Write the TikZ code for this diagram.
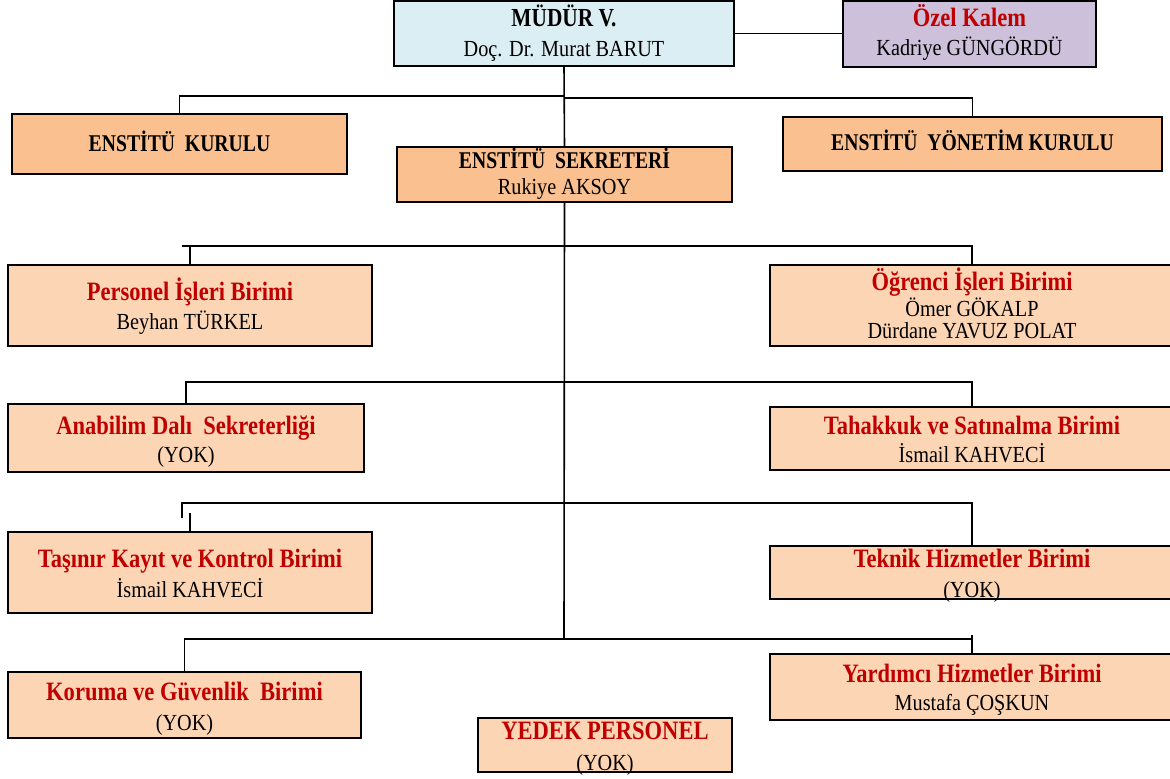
\documentclass[tikz,border=0pt]{standalone}
\usepackage{fontspec}
\setmainfont{Liberation Serif}[FakeStretch=0.88]
\newfontfamily\kirmizifont{Liberation Serif}[FakeStretch=0.85]
\newfontfamily\siyahfont{Liberation Serif}[FakeStretch=0.82]
\usetikzlibrary{calc}
\definecolor{mavi}{HTML}{DAEEF3}
\definecolor{lila}{HTML}{CCC0DA}
\definecolor{turuncu}{HTML}{FAC090}
\definecolor{acik}{HTML}{FCD5B5}
\definecolor{kirmizi}{HTML}{C00000}

\begin{document}
\begin{tikzpicture}[x=1pt,y=-1pt,
    kutu/.style={draw,line width=1.5pt,inner sep=0pt,outer sep=0pt,anchor=north west},
    ust/.style={font=\siyahfont\fontsize{24}{24}\selectfont\bfseries,inner sep=0pt,anchor=base},
    baslik/.style={font=\kirmizifont\fontsize{26.5}{26.5}\selectfont\bfseries,text=kirmizi,inner sep=0pt,anchor=base},
    isim/.style={font=\fontsize{23}{23}\selectfont,inner sep=0pt,anchor=base},
    hat/.style={draw,line width=1.6pt}]
  \useasboundingbox (0,0) rectangle (1170,779);

  % boxes: name/x1/y1/x2/y2/fill
  \foreach \ad/\xa/\ya/\xb/\yb/\renk in {
      mudur/394/1/734/66/mavi, ozel/843/1/1096/67/lila,
      kurul/12/114/347/174/turuncu, yonetim/783/117/1162/171/turuncu,
      sekreter/397/147/732/202/turuncu,
      personel/8/265/372/346/acik, ogrenci/770/265/1174/346/acik,
      anabilim/8/404/364/472/acik, tahakkuk/770/407/1174/470/acik,
      tasinir/8/532/372/613/acik, teknik/770/546/1174/599/acik,
      koruma/8/672/361/738/acik, yardimci/770/654/1174/720/acik,
      yedek/478/718/732/772/acik} {
    \node[kutu,fill=\renk,minimum width=\xb-\xa,minimum height=\yb-\ya] (\ad) at (\xa,\ya) {};
  }

  % texts, baselines measured from the top of each box
  \node[ust,font=\siyahfont\fontsize{26}{26}\selectfont\bfseries] (mudur-b) at ($(mudur.north)+(0,26)$) {MÜDÜR V.};
  \node[isim] (mudur-i) at ($(mudur.north)+(0,55)$) {Doç. Dr. Murat BARUT};
  \node[baslik] (ozel-b) at ($(ozel.north)+(0,26)$) {Özel Kalem};
  \node[isim] (ozel-i) at ($(ozel.north)+(0,54)$) {Kadriye GÜNGÖRDÜ};
  \node[ust] (kurul-b) at ($(kurul.north)+(0,37)$) {ENSTİTÜ~~KURULU};
  \node[ust] (yonetim-b) at ($(yonetim.north)+(0,33)$) {ENSTİTÜ~~YÖNETİM KURULU};
  \node[ust] (sekreter-b) at ($(sekreter.north)+(0,21)$) {ENSTİTÜ~~SEKRETERİ};
  \node[isim] (sekreter-i) at ($(sekreter.north)+(0,47)$) {Rukiye AKSOY};
  \node[baslik] (personel-b) at ($(personel.north)+(0,35)$) {Personel İşleri Birimi};
  \node[isim] (personel-i) at ($(personel.north)+(0,64)$) {Beyhan TÜRKEL};
  \node[baslik] (ogrenci-b) at ($(ogrenci.north)+(0,25)$) {Öğrenci İşleri Birimi};
  \node[isim] (ogrenci-i) at ($(ogrenci.north)+(0,51)$) {Ömer GÖKALP};
  \node[isim] (ogrenci-j) at ($(ogrenci.north)+(0,73)$) {Dürdane YAVUZ POLAT};
  \node[baslik] (anabilim-b) at ($(anabilim.north)+(0,30)$) {Anabilim Dalı~~Sekreterliği};
  \node[isim] (anabilim-i) at ($(anabilim.north)+(0,58)$) {(YOK)};
  \node[baslik] (tahakkuk-b) at ($(tahakkuk.north)+(0,27)$) {Tahakkuk ve Satınalma Birimi};
  \node[isim] (tahakkuk-i) at ($(tahakkuk.north)+(0,55)$) {İsmail KAHVECİ};
  \node[baslik] (tasinir-b) at ($(tasinir.north)+(0,35)$) {Taşınır Kayıt ve Kontrol Birimi};
  \node[isim] (tasinir-i) at ($(tasinir.north)+(0,65)$) {İsmail KAHVECİ};
  \node[baslik] (teknik-b) at ($(teknik.north)+(0,21)$) {Teknik Hizmetler Birimi};
  \node[isim] (teknik-i) at ($(teknik.north)+(0,51)$) {(YOK)};
  \node[baslik] (koruma-b) at ($(koruma.north)+(0,28)$) {Koruma ve Güvenlik~~Birimi};
  \node[isim] (koruma-i) at ($(koruma.north)+(0,58)$) {(YOK)};
  \node[baslik] (yardimci-b) at ($(yardimci.north)+(0,28)$) {Yardımcı Hizmetler Birimi};
  \node[isim] (yardimci-i) at ($(yardimci.north)+(0,56)$) {Mustafa ÇOŞKUN};
  \node[baslik] (yedek-b) at ($(yedek.north)+(0,21)$) {YEDEK PERSONEL};
  \node[isim] (yedek-i) at ($(yedek.north)+(0,52)$) {(YOK)};

  % junctions on the trunk
  \coordinate (k1) at (564,96);
  \coordinate (k2) at (564,98);
  \coordinate (s1) at (182,246);
  \coordinate (s2) at (972,382);
  \coordinate (s3) at (182,503);
  \coordinate (s4) at (972,639);
  \coordinate (dip) at (564,639);

  % trunk and upper links
  \draw[hat] (mudur.east) -- (mudur.east -| ozel.west);
  \draw[hat] (mudur.south) -- (sekreter.north);
  \draw[hat] (sekreter.south) -- (dip);
  \draw[hat] (k1) -| (kurul.north);
  \draw[hat] (k2) -| (yonetim.north);

  % rows of units
  \draw[hat] (s1) -| (ogrenci.north);
  \draw[hat] (personel.north) -- (personel.north |- s1);
  \draw[hat] (anabilim.north) |- (s2) -- (tahakkuk.north);
  \draw[hat] ($(s3)+(0,15)$) -- (s3) -| (teknik.north);
  \draw[hat] (tasinir.north) -- ++(0,-19);
  \draw[hat] (koruma.north) |- (s4);
  \draw[hat] (yardimci.north) -- ++(0,-19);
\end{tikzpicture}
\end{document}
